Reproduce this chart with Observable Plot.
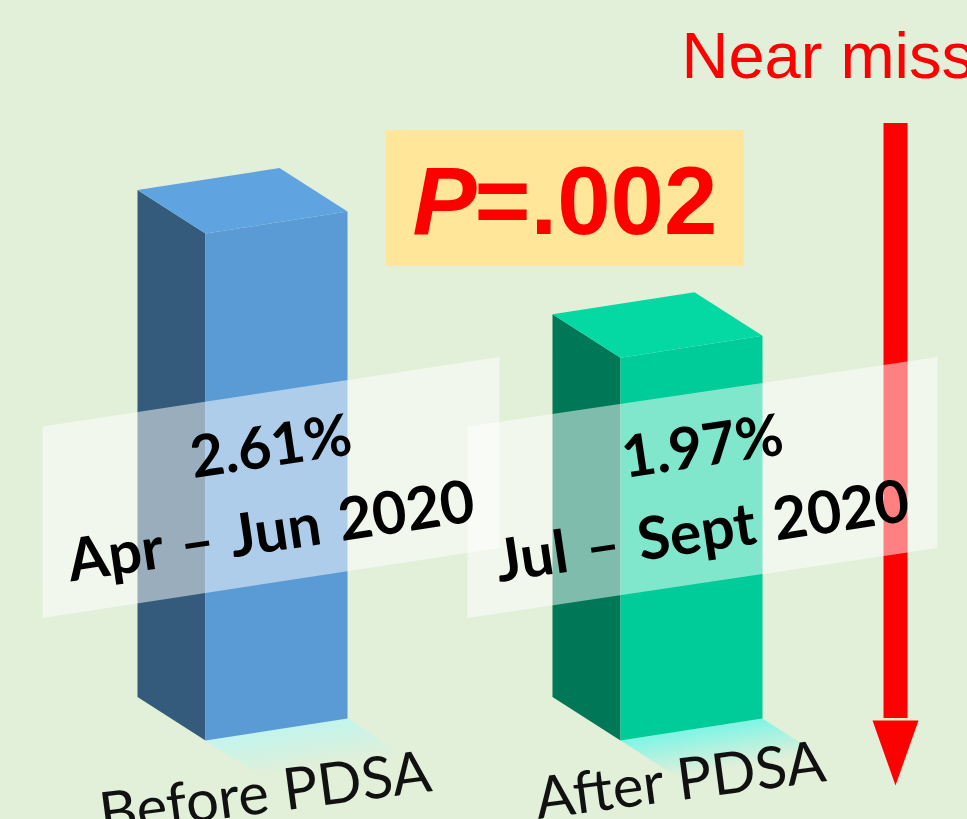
<!DOCTYPE html>
<html>
<head>
<meta charset="utf-8">
<script src="https://cdn.jsdelivr.net/npm/d3@7"></script>
<script src="https://cdn.jsdelivr.net/npm/@observablehq/plot@0.6"></script>
<style>
  html, body { margin: 0; padding: 0; background: #e2efd9; overflow: hidden; }
  #chart { width: 967px; height: 819px; }
</style>
</head>
<body>
<div id="chart"></div>
<script>
// ---- data ----
const categories = ["Before PDSA", "After PDSA"];
const periods = ["Apr – Jun 2020", "Jul – Sept 2020"];
const rates = [2.61, 1.97];               // near-miss rate, %
const pLabelParts = ["P", "=.002"];
const arrowLabel = "Near miss";

// ---- styles ----
const palette = {
  top:   ["#5fa3e0", "#04d8a3"],
  front: ["#5b9bd5", "#00cc99"],
  side:  ["#345b7b", "#007857"],
  shade: ["#c2f5ec", "#7ff5e6"]
};
const bg = "#e2efd9";

// ---- layout (in scale units: x = bar slot, y = percent) ----
const W = [0.3422, 0.1133];     // front-face width vector
const D = [-0.1639, 0.2239];    // depth vector
const S = [0.135, -0.185];      // floor reflection vector
const panelX = [[-0.3928, 0.7084], [-0.3687, 0.7639]];
const panelY = {lt: 1.6165, rt: 1.974, rb: 0.991, lb: 0.6307};
const valueTextY = 1.508, periodTextY = 1.071;
const catLabelDx = 0.15, catLabelY = [-0.371, -0.306];
const box = {x1: 0.4361, x2: 1.2988, y1: 2.44, y2: 3.14};
const pText = {xEnd: 0.653, xStart: 0.648};
const arrow = {x: 1.6627, top: 3.176, headBase: 0.103, tip: -0.2317, half: 0.0554};
const nearMissPos = {x: 1.147, y: 3.413};

// ---- build geometry from the data ----
const faces = [];
const poly = (id, fill, pts) => pts.forEach(([x, y]) => faces.push({id, fill, x, y}));
rates.forEach((v, i) => {
  const x0 = i;
  poly(`shade${i}`, `url(#shade${i})`, [[x0, 0], [x0 + W[0], W[1]], [x0 + W[0] + S[0], W[1] + S[1]], [x0 + S[0], S[1]]]);
  poly(`side${i}`, palette.side[i], [[x0, 0], [x0, v], [x0 + D[0], v + D[1]], [x0 + D[0], D[1]]]);
  poly(`front${i}`, palette.front[i], [[x0, 0], [x0 + W[0], W[1]], [x0 + W[0], v + W[1]], [x0, v]]);
  poly(`top${i}`, palette.top[i], [[x0, v], [x0 + W[0], v + W[1]], [x0 + W[0] + D[0], v + W[1] + D[1]], [x0 + D[0], v + D[1]]]);
});

const panels = [];
categories.forEach((c, i) => {
  const [a, b] = panelX[i];
  [[i + a, panelY.lt], [i + b, panelY.rt], [i + b, panelY.rb], [i + a, panelY.lb]]
    .forEach(([x, y]) => panels.push({id: c, x, y}));
});

const labels = categories.map((c, i) => ({
  cat: c,
  period: periods[i],
  rate: rates[i].toFixed(2) + "%",
  cx: i + (panelX[i][0] + panelX[i][1]) / 2,
  lx: i + catLabelDx,
  ly: catLabelY[i]
}));

const head = [
  {x: arrow.x - arrow.half, y: arrow.headBase},
  {x: arrow.x + arrow.half, y: arrow.headBase},
  {x: arrow.x, y: arrow.tip}
];

const svg = Plot.plot({
  width: 967,
  height: 819,
  margin: 0,
  style: {background: bg, overflow: "hidden"},
  x: {domain: [0, 1], range: [205, 620], axis: null},
  y: {domain: [0, 2.61], range: [740, 233], axis: null},
  color: {type: "identity"},
  marks: [
    Plot.line(faces, {x: "x", y: "y", z: "id", fill: "fill", stroke: "none"}),
    Plot.ruleX([arrow.x], {y1: arrow.headBase + 0.01, y2: arrow.top, stroke: "#ff0000", strokeWidth: 24}),
    Plot.line(head, {x: "x", y: "y", fill: "#ff0000", stroke: "none"}),
    Plot.line(panels, {x: "x", y: "y", z: "id", fill: "white", fillOpacity: 0.5, stroke: "none"}),
    Plot.text(labels, {x: "cx", y: valueTextY, text: "rate", rotate: -8.5, fontSize: 58, fontWeight: "bold", fontFamily: "Lato, sans-serif", fill: "#000", lineAnchor: "middle"}),
    Plot.text(labels, {x: "cx", y: periodTextY, text: "period", rotate: -8.5, fontSize: 59, fontWeight: "bold", fontFamily: "Lato, sans-serif", fill: "#000", lineAnchor: "middle", className: "period"}),
    Plot.text(labels, {x: "lx", y: "ly", text: "cat", rotate: -7.5, fontSize: 58, fontFamily: "Lato, sans-serif", fill: "#111", lineAnchor: "bottom"}),
    Plot.rect([box], {x1: "x1", x2: "x2", y1: "y1", y2: "y2", fill: "#ffe699"}),
    Plot.text([pLabelParts[0]], {x: pText.xEnd, y: 2.61, text: d => d, textAnchor: "end", lineAnchor: "bottom", fontSize: 96, fontWeight: "bold", fontStyle: "italic", fontFamily: "Liberation Sans, Arial, sans-serif", fill: "#ff0000"}),
    Plot.text([pLabelParts[1]], {x: pText.xStart, y: 2.61, text: d => d, textAnchor: "start", lineAnchor: "bottom", fontSize: 96, fontWeight: "bold", fontFamily: "Liberation Sans, Arial, sans-serif", fill: "#ff0000"}),
    Plot.text([arrowLabel], {x: nearMissPos.x, y: nearMissPos.y, text: d => d, textAnchor: "start", lineAnchor: "bottom", fontSize: 65, fontFamily: "Liberation Sans, Arial, sans-serif", fill: "#ff0000"})
  ]
});

// wider word spacing for the period labels (Calibri-like spacing)
d3.select(svg).selectAll(".period text").style("word-spacing", "4px");

// gradients for floor reflections, fading away from the bar's bottom edge
const defs = d3.select(svg).insert("defs", ":first-child");
palette.shade.forEach((c, i) => {
  const g = defs.append("linearGradient").attr("id", `shade${i}`)
    .attr("x1", 0).attr("y1", 0.39).attr("x2", 0.32).attr("y2", 0.98);
  g.append("stop").attr("offset", "0%").attr("stop-color", c).attr("stop-opacity", 1);
  g.append("stop").attr("offset", "100%").attr("stop-color", c).attr("stop-opacity", 0);
});

document.getElementById("chart").appendChild(svg);
</script>
</body>
</html>
